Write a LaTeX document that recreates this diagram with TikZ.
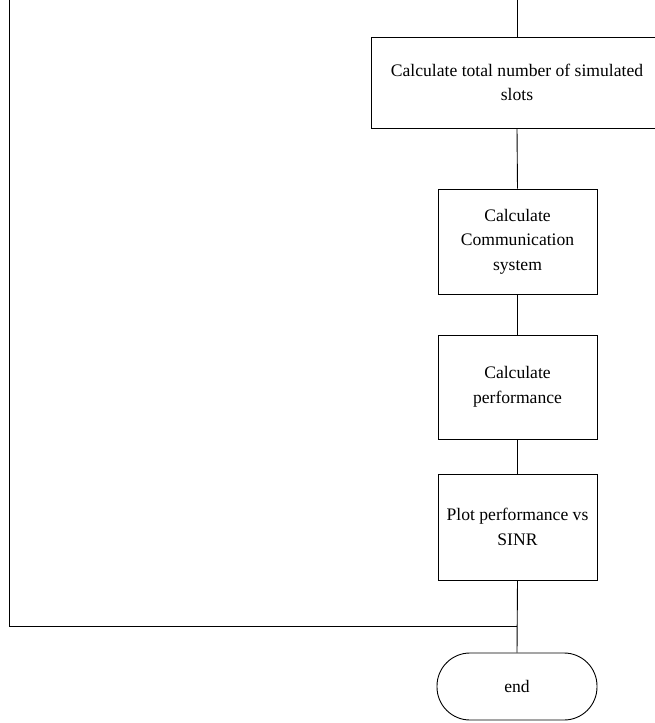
\documentclass[tikz,border=0pt]{standalone}
\usepackage{fontspec}
\setmainfont{Liberation Serif}
\begin{document}
\begin{tikzpicture}[x=1pt,y=-1pt,
  line width=0.9pt,
  procbox/.style={draw, rectangle, line width=0.9pt, align=center,
    font=\fontsize{17.6}{24.5}\selectfont, inner sep=0pt},
  termbox/.style={draw, rectangle, rounded corners=33pt, line width=0.9pt,
    font=\fontsize{17.6}{24.5}\selectfont, inner sep=0pt},
  link/.style={line width=0.9pt}]
\useasboundingbox (0,0) rectangle (655,723);
\clip (0,0) rectangle (655,723);
% process boxes down the right-hand column
\node[procbox, minimum width=292pt, minimum height=91pt] (slots) at (517,82.5)
  {Calculate total number of simulated\\slots};
\node[procbox, minimum width=159pt, minimum height=105pt] (comm) at (517.5,241.5)
  {Calculate\\Communication\\system};
\node[procbox, minimum width=159pt, minimum height=104pt] (perf) at (517.5,387)
  {Calculate\\performance};
\node[procbox, minimum width=159pt, minimum height=106pt] (plot) at (517.5,527)
  {Plot performance vs\\SINR};
\node[termbox, minimum width=160pt, minimum height=67pt] (end) at (517,686.5) {end};
% connectors
\coordinate (top) at (517,0);
\coordinate (loopL) at (9,0);
\coordinate (merge) at (517,626);
\draw[link] (top) -- (slots.north);
\draw[link] (slots.south) -- (comm.north);
\draw[link] (comm.south) -- (perf.north);
\draw[link] (perf.south) -- (plot.north);
\draw[link] (plot.south) -- (end.north);
\draw[link] (loopL) |- (merge);
\end{tikzpicture}
\end{document}
